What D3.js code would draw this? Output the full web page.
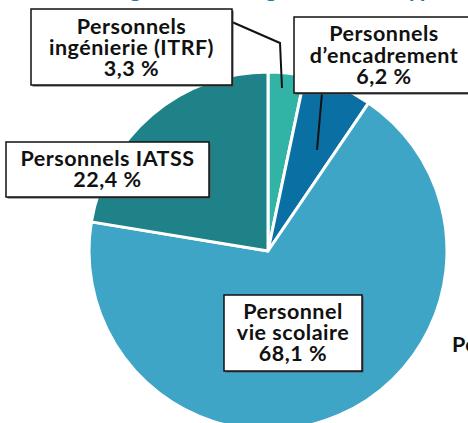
<!DOCTYPE html>
<html>
<head>
<meta charset="utf-8">
<script src="https://cdn.jsdelivr.net/npm/d3@7"></script>
<style>
  html, body { margin: 0; padding: 0; background: #fff; overflow: hidden; }
  text { font-family: Lato, "Open Sans", sans-serif; font-weight: 700; }
</style>
</head>
<body>
<script>
var categories = ["Personnels ingénierie (ITRF)", "Personnels d’encadrement", "Personnel vie scolaire", "Personnels IATSS"];
var values = [3.3, 6.2, 68.1, 22.4];
var colors = ["#31b4a5", "#0a70a4", "#3ea5c7", "#1f8288"];
var labelLines = [
    ["Personnels", "ingénierie (ITRF)", "3,3\u202F%"],
    ["Personnels", "d’encadrement", "6,2\u202F%"],
    ["Personnel", "vie scolaire", "68,1\u202F%"],
    ["Personnels IATSS", "22,4\u202F%"]
];

var width = 468, height = 423;
var cx = 268, cy = 251, radius = 179;

var svg = d3.select("body").append("svg")
    .attr("width", width)
    .attr("height", height);

// cut-off title at the very top
svg.append("text")
    .attr("x", 445)
    .attr("y", -3.5)
    .attr("text-anchor", "end")
    .style("font-size", "23px")
    .style("fill", "#1b7aa6")
    .text("Répartition des agents de catégorie, statut, type");

// neighbour label cut off at the right
svg.append("text")
    .attr("x", 452)
    .attr("y", 352)
    .style("font-size", "21.5px")
    .style("letter-spacing", "0.5px")
    .style("fill", "#111")
    .text("Personnels");

var pie = d3.pie().sort(null).value(function(d) { return d; });
var arc = d3.arc().innerRadius(0).outerRadius(radius);

var g = svg.append("g").attr("transform", "translate(" + cx + "," + cy + ")");

g.selectAll(".slice")
    .data(pie(values))
    .enter().append("path")
    .attr("class", "slice")
    .attr("d", arc)
    .style("fill", function(d, i) { return colors[i]; })
    .style("stroke", "#fff")
    .style("stroke-width", 3)
    .style("stroke-linejoin", "round");

// leader lines
var leaders = [
    [[232, 22], [280, 43], [282, 88]],
    [[322, 93], [317, 150]]
];
svg.selectAll(".leader")
    .data(leaders)
    .enter().append("path")
    .attr("class", "leader")
    .attr("d", d3.line())
    .style("fill", "none")
    .style("stroke", "#111")
    .style("stroke-width", 2);

// label boxes: x0, y0, x1, y1, first baseline, line step
var boxes = [
    {x0: 31, y0: 9, x1: 232, y1: 85, base: 34, step: 21, idx: 0},
    {x0: 294, y0: 17, x1: 470, y1: 93, base: 41, step: 21.5, idx: 1},
    {x0: 224, y0: 295, x1: 362, y1: 371, base: 319, step: 21, idx: 2},
    {x0: 6, y0: 142, x1: 209, y1: 197, base: 166, step: 21, idx: 3}
];

var lab = svg.selectAll(".lab")
    .data(boxes)
    .enter().append("g")
    .attr("class", "lab");

lab.append("rect")
    .attr("x", function(d) { return d.x0 + 1.5; })
    .attr("y", function(d) { return d.y0 + 1.5; })
    .attr("width", function(d) { return d.x1 - d.x0; })
    .attr("height", function(d) { return d.y1 - d.y0; })
    .style("fill", "#555");

lab.append("rect")
    .attr("x", function(d) { return d.x0; })
    .attr("y", function(d) { return d.y0; })
    .attr("width", function(d) { return d.x1 - d.x0; })
    .attr("height", function(d) { return d.y1 - d.y0; })
    .style("fill", "#fff")
    .style("stroke", "#111")
    .style("stroke-width", 1.5);

lab.each(function(d) {
    var t = d3.select(this).append("text")
        .attr("text-anchor", "middle")
        .style("font-size", "21.5px")
        .style("letter-spacing", "0.5px")
        .style("fill", "#111");
    labelLines[d.idx].forEach(function(line, i) {
        t.append("tspan")
            .attr("x", (d.x0 + d.x1) / 2 + (d.idx === 1 ? 2 : 0))
            .attr("y", d.base + i * d.step)
            .text(line);
    });
});
</script>
</body>
</html>
